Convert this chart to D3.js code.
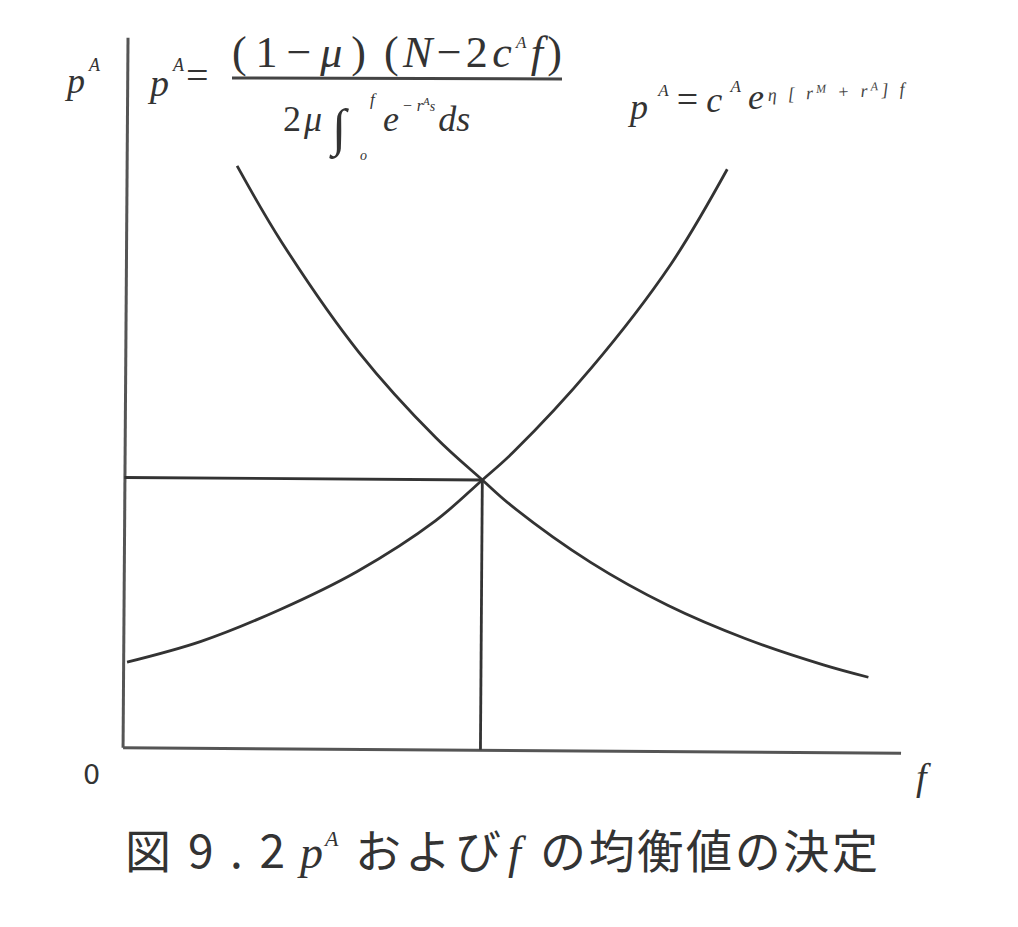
<!DOCTYPE html>
<html>
<head>
<meta charset="utf-8">
<script src="https://cdn.jsdelivr.net/npm/d3@7"></script>
<style>
html,body{margin:0;padding:0;background:#fff;}
svg{display:block;}
</style>
</head>
<body>
<svg id="chart" width="1018" height="927"></svg>
<script>
// ---- data (arbitrary units) ----
const fDecreasing = [1.42, 2, 3, 4, 4.6, 5, 6, 7, 8, 9, 9.58];
const pDecreasing = [8.2, 7.13, 5.59, 4.39, 3.8, 3.42, 2.65, 2.05, 1.59, 1.23, 1.06];
const fIncreasing = [0.05, 1, 2, 3, 4, 4.6, 5, 6, 7, 7.72];
const pIncreasing = [1.2, 1.5, 1.95, 2.5, 3.22, 3.8, 4.2, 5.4, 6.85, 8.2];
const equilibrium = [4.6, 3.8]; // [f*, p*]
const xDomain = [0, 10];
const yDomain = [0, 10];
const axisLabels = {y: "p", ySup: "A", x: "f", origin: "0"};
const captionParts = ["図", "9.2", "p", "A", "および", "f", "の均衡値の決定"];

const svg = d3.select("#chart");
const g = svg.append("g").attr("transform", "rotate(0.4,512,400)");

const x = d3.scaleLinear().domain(xDomain).range([125, 903]);
const y = d3.scaleLinear().domain(yDomain).range([750, 40]);

const ink = "#333";

// axes (no ticks)
g.append("g").attr("transform", `translate(0,${y(0)})`)
  .call(d3.axisBottom(x).tickValues([]).tickSizeOuter(0))
  .call(s => s.select(".domain").attr("stroke", "#555").attr("stroke-width", 3));
g.append("g").attr("transform", `translate(${x(0)},0)`)
  .call(d3.axisLeft(y).tickValues([]).tickSizeOuter(0))
  .call(s => s.select(".domain").attr("stroke", "#555").attr("stroke-width", 3));

const line = d3.line().x(d => x(d[0])).y(d => y(d[1])).curve(d3.curveCatmullRom.alpha(0.5));

g.append("path").datum(fDecreasing.map((f, i) => [f, pDecreasing[i]]))
  .attr("d", line).attr("fill", "none").attr("stroke", ink).attr("stroke-width", 2.8);
g.append("path").datum(fIncreasing.map((f, i) => [f, pIncreasing[i]]))
  .attr("d", line).attr("fill", "none").attr("stroke", ink).attr("stroke-width", 2.8);

// equilibrium guides
g.append("line").attr("x1", x(0)).attr("x2", x(equilibrium[0]))
  .attr("y1", y(equilibrium[1])).attr("y2", y(equilibrium[1]))
  .attr("stroke", ink).attr("stroke-width", 2.8);
g.append("line").attr("x1", x(equilibrium[0])).attr("x2", x(equilibrium[0]))
  .attr("y1", y(equilibrium[1])).attr("y2", y(0))
  .attr("stroke", ink).attr("stroke-width", 2.8);

const serif = "'Liberation Serif','DejaVu Serif',serif";

// axis labels
const yl = svg.append("text").attr("x", 67).attr("y", 93).attr("font-family", serif)
  .attr("font-style", "italic").attr("font-size", 36).attr("fill", "#333");
yl.append("tspan").text(axisLabels.y);
yl.append("tspan").attr("font-size", 18).attr("dy", -22).attr("dx", 4).text(axisLabels.ySup);

svg.append("text").attr("x", 83).attr("y", 784).attr("font-family", "'DejaVu Sans',sans-serif")
  .attr("font-size", 27).attr("fill", "#333").text(axisLabels.origin);
svg.append("text").attr("x", 916).attr("y", 790).attr("font-family", serif)
  .attr("font-style", "italic").attr("font-size", 38).attr("fill", "#333").text(axisLabels.x);

// formula 1
const f1 = svg.append("g").attr("font-family", serif).attr("fill", "#333");
const lhs = f1.append("text").attr("x", 150).attr("y", 96).attr("font-size", 38);
lhs.append("tspan").attr("font-style", "italic").text("p");
lhs.append("tspan").attr("font-size", 18).attr("font-style", "italic").attr("dy", -25).attr("dx", 4).text("A");
lhs.append("tspan").attr("dy", 18).attr("dx", 2).attr("font-size", 40).text("=");

const n1 = f1.append("text").attr("x", 232).attr("y", 67).attr("font-size", 44)
  .attr("textLength", 134).attr("lengthAdjust", "spacing");
n1.append("tspan").text("(1−");
n1.append("tspan").attr("font-style", "italic").text("μ");
n1.append("tspan").text(")");
const n2 = f1.append("text").attr("x", 384).attr("y", 67).attr("font-size", 44)
  .attr("textLength", 178).attr("lengthAdjust", "spacing");
n2.append("tspan").text("(");
n2.append("tspan").attr("font-style", "italic").text("N");
n2.append("tspan").text("−2");
n2.append("tspan").attr("font-style", "italic").text("c");
n2.append("tspan").attr("font-style", "italic").attr("font-size", 17).attr("dy", -19).text("A");
n2.append("tspan").attr("font-style", "italic").attr("dy", 19).text("f");
n2.append("tspan").text(")");

f1.append("line").attr("x1", 232).attr("x2", 562).attr("y1", 78).attr("y2", 79)
  .attr("stroke", "#444").attr("stroke-width", 3);

const den = f1.append("text").attr("x", 283).attr("y", 131).attr("font-size", 36);
den.append("tspan").text("2");
den.append("tspan").attr("font-style", "italic").attr("dx", 3).text("μ");
f1.append("text").attr("x", 332).attr("y", 145).attr("font-size", 52).attr("font-style", "italic").text("∫");
f1.append("text").attr("x", 360).attr("y", 160).attr("font-size", 14).attr("font-style", "italic").text("o");
f1.append("text").attr("x", 370).attr("y", 105).attr("font-size", 17).attr("font-style", "italic").text("f");
const ex = f1.append("text").attr("x", 383).attr("y", 131).attr("font-size", 36).attr("font-style", "italic");
ex.append("tspan").text("e");
ex.append("tspan").attr("font-size", 16).attr("dy", -20).attr("dx", 3).text("− r");
ex.append("tspan").attr("font-size", 11).attr("dy", -6).text("A");
ex.append("tspan").attr("font-size", 14).attr("dy", 6).text("s");
ex.append("tspan").attr("dy", 20).attr("dx", 3).text("ds");

// formula 2
const f2 = svg.append("text").attr("font-family", serif).attr("fill", "#333")
  .attr("x", 630).attr("y", 119).attr("font-size", 36).attr("font-style", "italic")
  .attr("textLength", 134).attr("lengthAdjust", "spacing");
f2.append("tspan").text("p");
f2.append("tspan").attr("font-size", 17).attr("dy", -23).attr("dx", 4).text("A");
f2.append("tspan").attr("font-style", "normal").attr("font-size", 38).attr("dy", 16).attr("dx", 2).text("=");
f2.append("tspan").attr("dx", 2).text("c");
f2.append("tspan").attr("font-size", 17).attr("dy", -20).attr("dx", 2).text("A");
f2.append("tspan").attr("dy", 17).attr("dx", 1).text("e");
const f2e = svg.append("text").attr("font-family", serif).attr("fill", "#444")
  .attr("x", 768).attr("y", 101).attr("font-size", 18).attr("font-style", "italic")
  .attr("textLength", 137).attr("lengthAdjust", "spacing")
  .attr("transform", "rotate(-2.5,768,101)");
f2e.append("tspan").text("η [ r");
f2e.append("tspan").attr("font-size", 12).attr("dy", -6).text("M");
f2e.append("tspan").attr("dy", 6).text(" + r");
f2e.append("tspan").attr("font-size", 12).attr("dy", -6).text("A");
f2e.append("tspan").attr("dy", 6).text("] f");

// caption
const capFont = "'Noto Sans CJK JP','Noto Sans',sans-serif";
const capY = 868;
svg.append("text").attr("x", 125).attr("y", capY).attr("font-size", 46).attr("font-family", capFont)
  .attr("fill", "#333").text(captionParts[0]);
svg.append("text").attr("x", 188).attr("y", capY).attr("font-size", 46).attr("font-family", capFont)
  .attr("fill", "#333").attr("textLength", 97).attr("lengthAdjust", "spacing").text(captionParts[1]);
const capP = svg.append("text").attr("x", 300).attr("y", capY).attr("font-size", 46)
  .attr("font-family", serif).attr("font-style", "italic").attr("fill", "#333");
capP.append("tspan").text(captionParts[2]);
capP.append("tspan").attr("font-size", 22).attr("dy", -22).attr("dx", 2).text(captionParts[3]);
svg.append("text").attr("x", 355).attr("y", capY).attr("font-size", 46).attr("font-family", capFont)
  .attr("fill", "#333").attr("textLength", 146).attr("lengthAdjust", "spacing").text(captionParts[4]);
svg.append("text").attr("x", 508).attr("y", capY).attr("font-size", 46).attr("font-family", serif)
  .attr("font-style", "italic").attr("fill", "#333").text(captionParts[5]);
svg.append("text").attr("x", 540).attr("y", capY).attr("font-size", 46).attr("font-family", capFont)
  .attr("fill", "#333").attr("textLength", 338).attr("lengthAdjust", "spacing").text(captionParts[6]);
</script>
</body>
</html>
